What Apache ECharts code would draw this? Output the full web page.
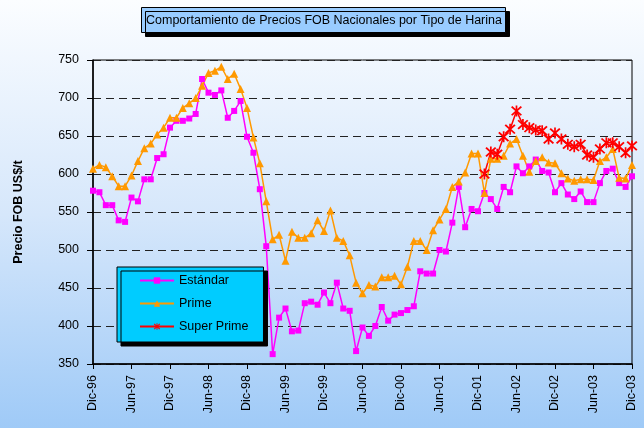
<!DOCTYPE html>
<html lang="es">
<head>
    <meta charset="UTF-8">
    <title>Comportamiento de Precios FOB Nacionales por Tipo de Harina</title>
    <script src="https://cdn.jsdelivr.net/npm/echarts@6/dist/echarts.min.js"></script>
    <style>
        html, body { margin: 0; padding: 0; }
        #main { width: 644px; height: 428px; }
    </style>
</head>
<body>
	<div id="main"></div>
	<script>
	    // meses Dic-96 .. Dic-03
	    var meses = [
	        'Dic-96',
	        'Ene-97','Feb-97','Mar-97','Abr-97','May-97','Jun-97','Jul-97','Ago-97','Sep-97','Oct-97','Nov-97','Dic-97',
	        'Ene-98','Feb-98','Mar-98','Abr-98','May-98','Jun-98','Jul-98','Ago-98','Sep-98','Oct-98','Nov-98','Dic-98',
	        'Ene-99','Feb-99','Mar-99','Abr-99','May-99','Jun-99','Jul-99','Ago-99','Sep-99','Oct-99','Nov-99','Dic-99',
	        'Ene-00','Feb-00','Mar-00','Abr-00','May-00','Jun-00','Jul-00','Ago-00','Sep-00','Oct-00','Nov-00','Dic-00',
	        'Ene-01','Feb-01','Mar-01','Abr-01','May-01','Jun-01','Jul-01','Ago-01','Sep-01','Oct-01','Nov-01','Dic-01',
	        'Ene-02','Feb-02','Mar-02','Abr-02','May-02','Jun-02','Jul-02','Ago-02','Sep-02','Oct-02','Nov-02','Dic-02',
	        'Ene-03','Feb-03','Mar-03','Abr-03','May-03','Jun-03','Jul-03','Ago-03','Sep-03','Oct-03','Nov-03','Dic-03'
	    ];
	    var estandar = [
	        578, 576, 559, 559, 539, 537, 569, 564, 593, 593, 621, 626, 661,
	        670, 670, 673, 679, 725, 707, 704, 710, 674, 683, 696, 649,
	        628, 580, 505, 363, 411, 423, 393, 394, 430, 432, 428, 444,
	        430, 457, 423, 420, 367, 398, 387, 400, 425, 407, 415, 417,
	        421, 426, 472, 469, 469, 500, 498, 536, 583, 530, 554, 551,
	        575, 567, 554, 583, 576, 610, 601, 610, 619, 604, 602, 576,
	        588, 573, 567, 577, 563, 563, 588, 604, 607, 588, 583, 597
	    ];
	    var prime = [
	        607, 612, 609, 597, 584, 584, 598, 617, 634, 640, 652, 661, 674,
	        674, 687, 693, 700, 716, 733, 736, 741, 725, 732, 712, 687,
	        648, 614, 564, 514, 520, 486, 524, 516, 516, 522, 539, 525,
	        552, 516, 512, 493, 457, 443, 454, 452, 464, 464, 466, 455,
	        478, 512, 512, 500, 526, 540, 554, 583, 590, 602, 627, 627,
	        575, 620, 620, 624, 640, 646, 624, 603, 617, 622, 615, 614,
	        601, 594, 591, 593, 593, 592, 617, 622, 633, 595, 594, 612
	    ];
	    // Super Prime desde Ene-02
	    var superPrimeMeses = meses.slice(meses.indexOf('Ene-02'));
	    var superPrime = [
	        600, 629, 626, 649, 659, 683, 665, 661, 658, 657, 646, 654,
	        646, 639, 636, 639, 625, 622, 633, 641, 641, 636, 628, 637
	    ];
	    var yTicks = [350, 400, 450, 500, 550, 600, 650, 700, 750];

	    var fuente = '"Liberation Sans", Arial, sans-serif';
	    var asterisco = 'path://M4.3 0L5.7 0L5.7 10L4.3 10Z M0.5 1.6L1.6 0.5L9.5 8.4L8.4 9.5Z M8.4 0.5L9.5 1.6L1.6 9.5L0.5 8.4Z';

	    var myChart = echarts.init(document.getElementById('main'));
	    var option = {
	        backgroundColor: {
	            type: 'linear', x: 0, y: 0, x2: 0, y2: 1,
	            colorStops: [
	                { offset: 0, color: '#fbfdff' },
	                { offset: 0.5, color: '#d6e7fb' },
	                { offset: 1, color: '#9fcaf7' }
	            ]
	        },
	        animation: false,
	        title: {
	            text: 'Comportamiento de Precios FOB Nacionales por Tipo de Harina',
	            left: 141,
	            top: 7,
	            padding: [7, 4, 6, 5],
	            backgroundColor: '#99ccff',
	            borderColor: '#000',
	            borderWidth: 1,
	            shadowColor: '#000',
	            shadowOffsetX: 4,
	            shadowOffsetY: 4,
	            shadowBlur: 0,
	            textStyle: {
	                fontFamily: fuente,
	                fontSize: 12.5,
	                fontWeight: 'normal',
	                color: '#000'
	            }
	        },
	        legend: {
	            orient: 'vertical',
	            left: 117,
	            top: 267,
	            padding: [7, 15, 9, 22],
	            itemWidth: 34,
	            itemHeight: 8,
	            itemGap: 10,
	            backgroundColor: '#00ccff',
	            borderColor: '#000',
	            borderWidth: 1,
	            shadowColor: '#000',
	            shadowOffsetX: 4,
	            shadowOffsetY: 4,
	            shadowBlur: 0,
	            textStyle: {
	                fontFamily: fuente,
	                fontSize: 12.5,
	                color: '#000'
	            },
	            data: ['Estándar', 'Prime', 'Super Prime']
	        },
	        grid: {
	            left: 93,
	            top: 60,
	            right: 12,
	            bottom: 64,
	            show: true,
	            borderColor: '#000',
	            borderWidth: 1,
	            backgroundColor: 'transparent'
	        },
	        xAxis: {
	            type: 'category',
	            boundaryGap: false,
	            data: meses,
	            axisLine: { lineStyle: { color: '#000', width: 1.5 } },
	            axisTick: { interval: 5, length: 5, lineStyle: { color: '#000' } },
	            axisLabel: {
	                interval: 5,
	                rotate: 90,
	                margin: 11,
	                fontFamily: fuente,
	                fontSize: 12.5,
	                color: '#000'
	            }
	        },
	        yAxis: {
	            type: 'value',
	            min: yTicks[0],
	            max: yTicks[yTicks.length - 1],
	            interval: 50,
	            name: 'Precio FOB US$/t',
	            nameLocation: 'middle',
	            nameGap: 68,
	            nameTextStyle: {
	                fontFamily: fuente,
	                fontSize: 12.5,
	                fontWeight: 'bold',
	                color: '#000'
	            },
	            axisLine: { show: true, lineStyle: { color: '#000', width: 1.5 } },
	            axisTick: { show: true, length: 6, lineStyle: { color: '#000' } },
	            axisLabel: {
	                margin: 14,
	                fontFamily: fuente,
	                fontSize: 12.5,
	                color: '#000'
	            },
	            splitLine: {
	                lineStyle: { color: '#222', type: [8, 5], width: 1 }
	            }
	        },
	        series: [
	            {
	                name: 'Estándar',
	                type: 'line',
	                data: estandar,
	                symbol: 'rect',
	                symbolSize: 6,
	                showAllSymbol: true,
	                itemStyle: { color: '#ff00ff' },
	                lineStyle: { color: '#ff00ff', width: 1.5 }
	            },
	            {
	                name: 'Prime',
	                type: 'line',
	                data: prime,
	                symbol: 'triangle',
	                symbolSize: 8,
	                showAllSymbol: true,
	                itemStyle: { color: '#ff9900' },
	                lineStyle: { color: '#ff9900', width: 1.5 }
	            },
	            {
	                name: 'Super Prime',
	                type: 'line',
	                data: superPrime.map(function (v, i) { return [superPrimeMeses[i], v]; }),
	                symbol: asterisco,
	                symbolSize: 11,
	                showAllSymbol: true,
	                itemStyle: { color: '#ff0000' },
	                lineStyle: { color: '#ff0000', width: 1.5 }
	            }
	        ]
	    };
	    myChart.setOption(option);
	</script>
</body>
</html>
